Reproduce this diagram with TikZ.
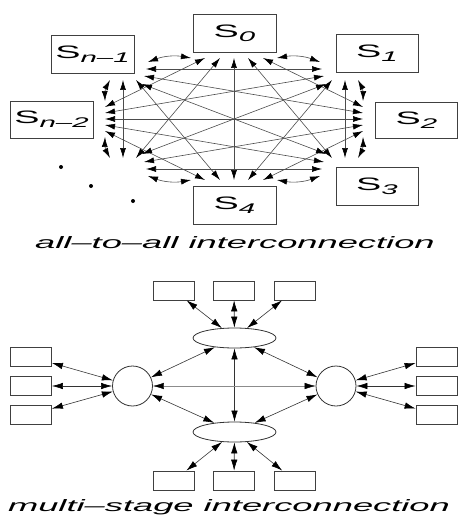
\documentclass[tikz,border=0pt]{standalone}
\usepackage{fontspec}
\setmainfont{Liberation Sans}
\usepackage{graphicx}
\usetikzlibrary{arrows.meta,shapes.geometric}

\newcommand{\slab}[1]{\scalebox{2.1}[1]{S\raisebox{-4pt}{\fontsize{14}{14}\selectfont\itshape #1}}}
\newcommand{\capt}[1]{\scalebox{2.2}[1]{\fontsize{16.5}{17}\selectfont\itshape #1}}

\tikzset{
  sbox/.style={draw=black!75, line width=0.8pt, minimum width=82pt, minimum height=38pt,
    inner sep=0pt, font=\fontsize{18}{18}\selectfont},
  link/.style={<->, >={Latex[length=10pt,width=6pt,color=black]}, draw=black!70, line width=0.6pt},
  pe/.style={draw=black!75, line width=0.8pt, minimum width=41pt, minimum height=19pt, inner sep=0pt},
  hub/.style={draw=black!80, line width=0.8pt, inner sep=0pt},
  mlink/.style={<->, >={Latex[length=11pt,width=6.5pt,color=black]}, draw=black!80, line width=0.6pt}
}

\begin{document}
\begin{tikzpicture}[x=1pt,y=-1pt]
        \useasboundingbox (0,0) rectangle (459,516);

        % all-to-all
        \node[sbox, minimum width=83pt] (s0) at (234.5,33.5) {\slab{0}};
        \node[sbox] (s1) at (377,53.5) {\slab{1}};
        \node[sbox, minimum height=36pt] (s2) at (416.5,120) {\slab{2}};
        \node[sbox] (s3) at (377,186.5) {\slab{3}};
        \node[sbox, minimum width=83pt] (s4) at (234.5,205) {\slab{4}};
        \node[sbox, minimum width=83pt] (sn1) at (92.5,54) {\slab{n--1}};
        \node[sbox, minimum width=83pt, minimum height=37pt] (sn2) at (51.5,119.5) {\slab{n--2}};

        \fill (61,167) circle (2pt);
        \fill (91,186) circle (2pt);
        \fill (133,201) circle (2pt);

        \foreach \px/\py [count=\d] in {277/58,263/58,248/58,234/58,220/58,205/58,191/58}
          \coordinate (p0-\d) at (\px,\py);
        \foreach \px/\py [count=\d] in {358/80,345/80,332/80,326/84,324/76,322/69,320/62}
          \coordinate (p1-\d) at (\px,\py);
        \foreach \px/\py [count=\d] in {363/137,363/131,363/125,363/119,363/113,363/107,363/101}
          \coordinate (p2-\d) at (\px,\py);
        \foreach \px/\py [count=\d] in {320/176,322/169,324/162,326/154,332/158,345/158,358/158}
          \coordinate (p3-\d) at (\px,\py);
        \foreach \px/\py [count=\d] in {191/180,205/180,220/180,234/180,248/180,263/180,277/180}
          \coordinate (p4-\d) at (\px,\py);
        \foreach \px/\py [count=\d] in {110/158,123/158,136/158,142/154,144/162,146/169,148/176}
          \coordinate (p5-\d) at (\px,\py);
        \foreach \px/\py [count=\d] in {105/101,105/107,105/113,105/119,105/125,105/131,105/137}
          \coordinate (p6-\d) at (\px,\py);
        \foreach \px/\py [count=\d] in {148/62,146/69,144/76,142/84,136/80,123/80,110/80}
          \coordinate (p7-\d) at (\px,\py);

        \foreach \i in {0,...,7}{
          \foreach \d in {1,2,3}{
            \pgfmathtruncatemacro\j{mod(\i+\d,8)}
            \pgfmathtruncatemacro\e{8-\d}
            \ifnum\d=1
              \draw[link] (p\i-\d) to[bend left=15] (p\j-\e);
            \else
              \draw[link] (p\i-\d) -- (p\j-\e);
            \fi
          }
        }
        \foreach \i in {0,...,3}{
          \pgfmathtruncatemacro\j{\i+4}
          \draw[link] (p\i-4) -- (p\j-4);
        }

        \node[anchor=base] (cap1) at (235,248) {\capt{all--to--all interconnection}};

        % multi-stage
        \node[pe] (t1) at (174,290.5) {};
        \node[pe] (t2) at (234,290.5) {};
        \node[pe] (t3) at (294.5,290.5) {};
        \node[pe] (b1) at (174,480.5) {};
        \node[pe] (b2) at (234,480.5) {};
        \node[pe] (b3) at (294.5,480.5) {};
        \node[pe] (l1) at (31,357) {};
        \node[pe] (l2) at (31,386) {};
        \node[pe] (l3) at (31,414.5) {};
        \node[pe] (r1) at (436.5,357) {};
        \node[pe] (r2) at (436.5,386) {};
        \node[pe] (r3) at (436.5,414.5) {};

        \node[hub, ellipse, minimum width=83pt, minimum height=20pt] (te) at (234.5,338) {};
        \node[hub, ellipse, minimum width=83pt, minimum height=20pt] (be) at (234.5,432) {};
        \node[hub, circle, minimum size=40pt] (lc) at (132.5,386) {};
        \node[hub, circle, minimum size=40pt] (rc) at (336,386) {};

        \foreach \n in {1,2,3}{
          \draw[mlink] (t\n) -- (te);
          \draw[mlink] (b\n) -- (be);
          \draw[mlink] (l\n) -- (lc);
          \draw[mlink] (r\n) -- (rc);
        }
        \draw[mlink] (te) -- (lc);
        \draw[mlink] (te) -- (rc);
        \draw[mlink] (be) -- (lc);
        \draw[mlink] (be) -- (rc);
        \draw[mlink] (te) -- (be);
        \draw[mlink, draw=black!45, line width=0.4pt] (lc) -- (rc);

        \node[anchor=base] (cap2) at (229,511.5) {\capt{multi--stage interconnection}};
\end{tikzpicture}
\end{document}
